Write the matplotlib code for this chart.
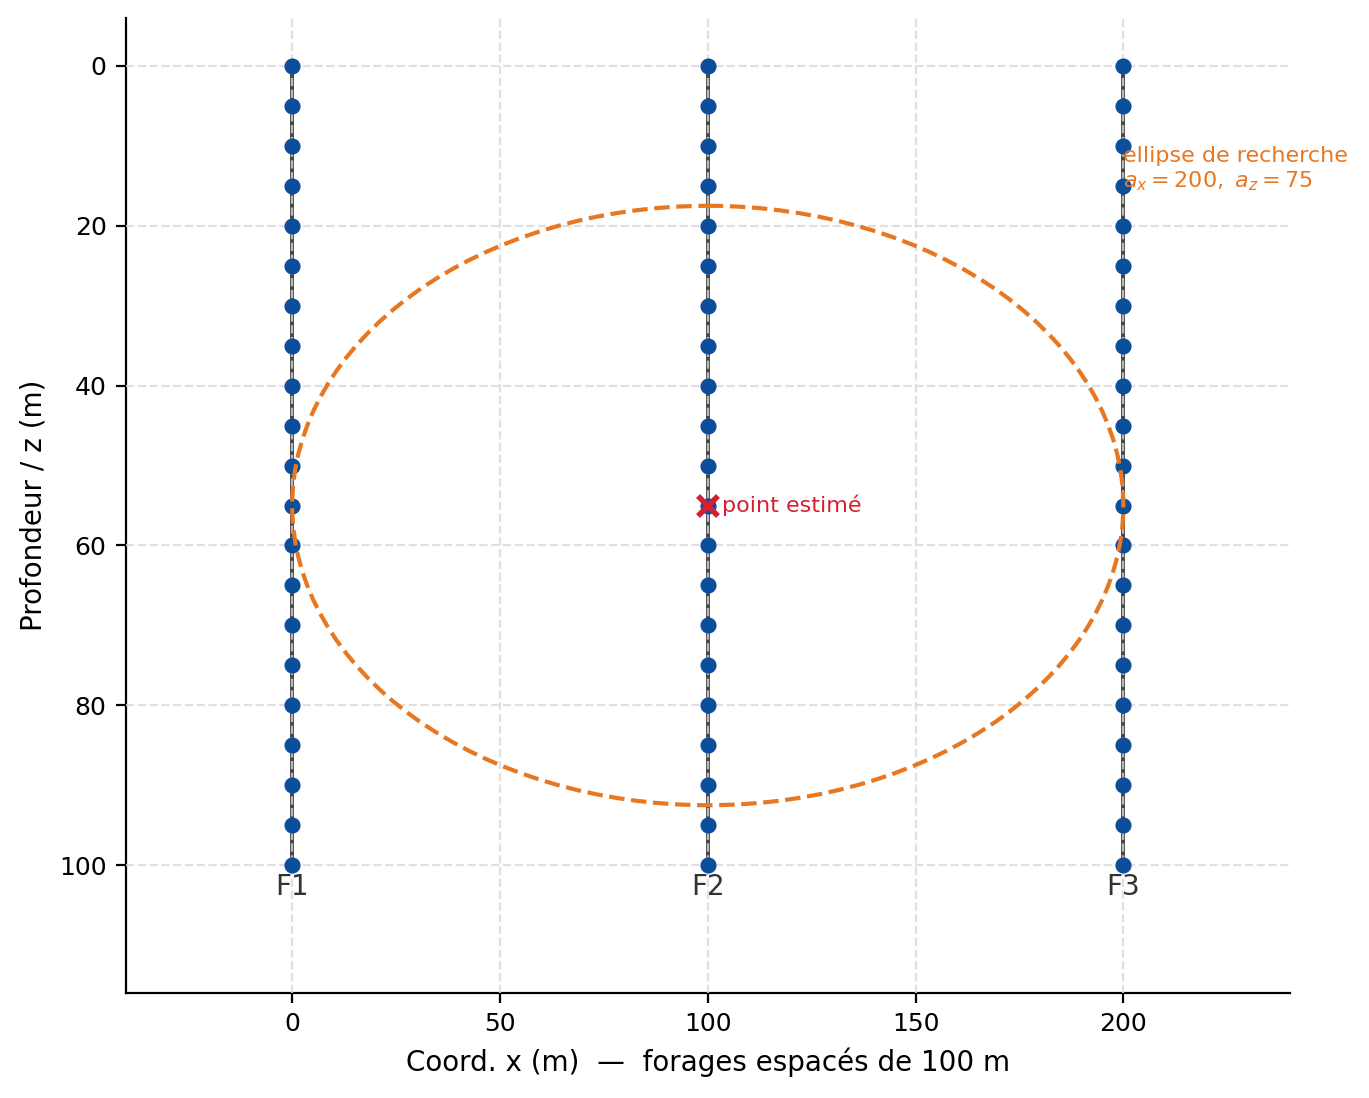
import numpy as np
import matplotlib.pyplot as plt
from matplotlib.patches import Ellipse

# forages (boreholes) and sample depths
forage_noms = ["F1", "F2", "F3"]
forage_x = [0, 100, 200]
profondeurs = list(range(0, 101, 5))

# point to estimate and search ellipse
point_x, point_z = 100, 55
ellipse_ax, ellipse_az = 200, 75

fig = plt.figure(figsize=(6.845, 5.49), dpi=200)
ax = fig.add_axes([0.092, 0.0956, 0.850, 0.888])

# grid drawn over the borehole lines (but under the markers)
ax.grid(True, linestyle="--", color="#d9d9d9", linewidth=0.8, alpha=0.8, zorder=2.5)
ax.set_axisbelow(False)

for nom, x in zip(forage_noms, forage_x):
    xs = [x] * len(profondeurs)
    ax.plot(xs, profondeurs, color="#444444", lw=1.4, zorder=2)
    ax.plot(xs, profondeurs, "o", color="#0b4f9c", ms=4.8, zorder=3)
    ax.text(x, 101, nom, ha="center", va="top", fontsize=10, color="#333333")

ell = Ellipse((point_x, point_z), width=ellipse_ax, height=ellipse_az,
              fill=False, edgecolor="#e87722", lw=1.5, linestyle="--", zorder=4)
ax.add_patch(ell)

ax.plot(point_x, point_z, "x", color="#d62031", ms=7, mew=2, zorder=5)
ax.text(point_x + 3.5, point_z, "point estimé", color="#d62031",
        fontsize=8, ha="left", va="center")

ax.text(200, 13, "ellipse de recherche\n$a_x=200,\\ a_z=75$", color="#e87722",
        fontsize=8, ha="left", va="center")

ax.set_xlim(-40, 240)
ax.set_ylim(116, -6)
ax.set_xticks([0, 50, 100, 150, 200])
ax.set_yticks([0, 20, 40, 60, 80, 100])
ax.tick_params(labelsize=9)
ax.set_xlabel("Coord. x (m)  —  forages espacés de 100 m", fontsize=10)
ax.set_ylabel("Profondeur / z (m)", fontsize=10)
ax.spines["top"].set_visible(False)
ax.spines["right"].set_visible(False)

fig.savefig("out.png", dpi=200)
